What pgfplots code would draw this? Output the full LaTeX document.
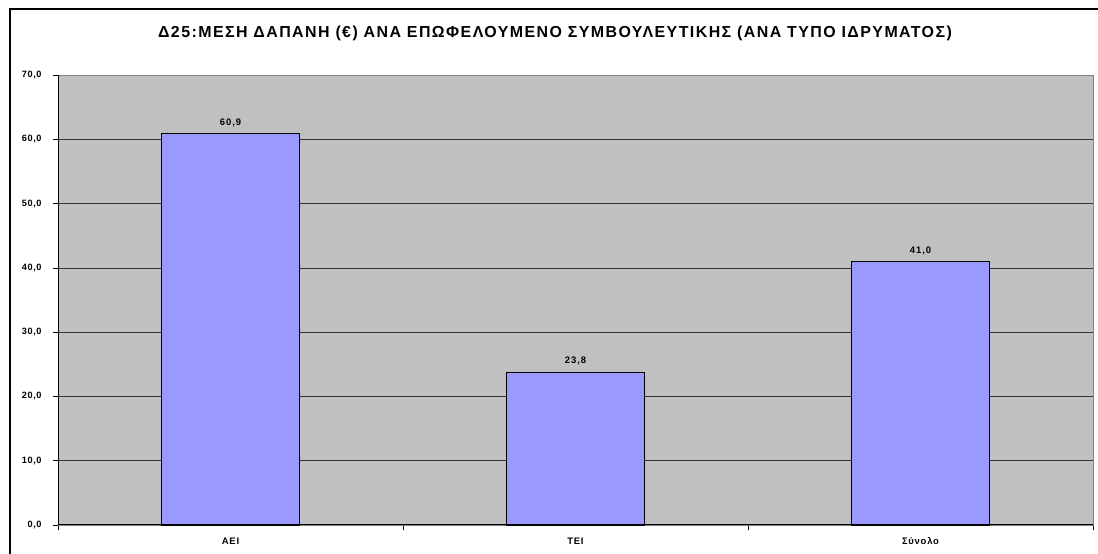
\documentclass[border=0pt]{standalone}
\usepackage{pgfplots}
\pgfplotsset{compat=1.18}
\usepackage{fontspec}
\setmainfont{Liberation Sans}
\definecolor{plotbg}{HTML}{C0C0C0}
\definecolor{barcol}{HTML}{9999FF}
\begin{document}
\begin{tikzpicture}[x=1bp,y=1bp]
\path[use as bounding box] (0,0) rectangle (1098,554);
\draw[black, line width=1.2bp] (10,-10) -- (10,545) -- (1120,545);
\node[font=\bfseries\fontsize{16}{19}\selectfont\addfontfeature{LetterSpace=9}] at (555,521) {Δ25:ΜΕΣΗ ΔΑΠΑΝΗ (€) ΑΝΑ ΕΠΩΦΕΛΟΥΜΕΝΟ ΣΥΜΒΟΥΛΕΥΤΙΚΗΣ (ΑΝΑ ΤΥΠΟ ΙΔΡΥΜΑΤΟΣ)};
\begin{axis}[
  at={(58bp,29bp)}, anchor=south west,
  scale only axis, width=1035bp, height=450bp,
  xmin=-0.5, xmax=2.5, ymin=0, ymax=70,
  axis background/.style={fill=plotbg},
  axis line style={draw=gray},
  ytick={0,10,...,70},
  xtick={0,1,2},
  xticklabels={ΑΕΙ,ΤΕΙ,Σύνολο},
  minor xtick={-0.5,0.5,1.5,2.5},
  major x tick style={draw=none},
  minor tick length=5bp,
  major tick length=5bp,
  tick align=outside,
  xtick pos=bottom, ytick pos=left,
  ymajorgrids,
  grid style={black!80, line width=0.6bp},
  tick style={black, line width=0.6bp},
  /pgf/number format/use comma,
  /pgf/number format/fixed,
  /pgf/number format/fixed zerofill,
  /pgf/number format/precision=1,
  /pgf/number format/assume math mode=true,
  yticklabel style={font=\bfseries\fontsize{9.2}{10}\selectfont\addfontfeature{LetterSpace=6}, xshift=-8bp},
  xticklabel style={font=\bfseries\fontsize{9.5}{11}\selectfont\addfontfeature{LetterSpace=8}, yshift=-4bp},
  nodes near coords,
  nodes near coords style={font=\bfseries\fontsize{9.5}{11}\selectfont\addfontfeature{LetterSpace=10}, yshift=3bp},
  clip=false,
]
\addplot[ybar, bar width=0.4, fill=barcol, draw=black, line width=0.8bp] coordinates {(0,60.9) (1,23.8) (2,41.0)};
\draw[black, line width=1bp] (axis cs:-0.5,0) -- (axis cs:2.5,0);
\draw[black, line width=0.8bp] (axis cs:-0.5,0) -- (axis cs:-0.5,70);
\end{axis}
\end{tikzpicture}
\end{document}
